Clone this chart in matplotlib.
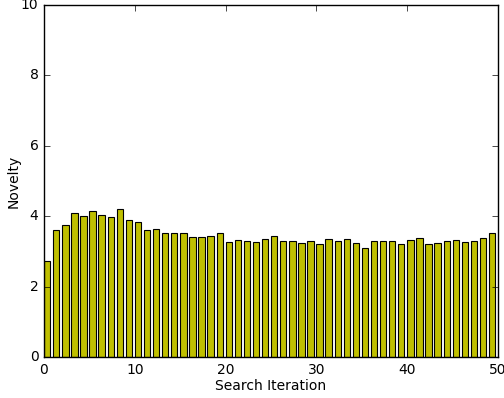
import matplotlib
matplotlib.use("Agg")
import matplotlib.pyplot as plt
import numpy as np

plt.style.use("classic")

iterations = list(range(50))
novelty = [2.73, 3.62, 3.75, 4.10, 4.00, 4.14, 4.03, 3.98, 4.20, 3.89,
           3.83, 3.62, 3.64, 3.53, 3.51, 3.53, 3.41, 3.40, 3.43, 3.51,
           3.26, 3.32, 3.30, 3.28, 3.36, 3.43, 3.30, 3.30, 3.24, 3.29,
           3.22, 3.34, 3.29, 3.36, 3.25, 3.10, 3.29, 3.29, 3.29, 3.21,
           3.32, 3.37, 3.21, 3.24, 3.30, 3.32, 3.27, 3.30, 3.37, 3.52]

fig = plt.figure(figsize=(5.04, 3.98), dpi=100)
fig.patch.set_facecolor("white")
ax = fig.add_axes([44/504, 1 - 357/398, 454/504, 352/398])
ax.bar(iterations, novelty, width=0.7, align="edge", color="y", edgecolor="black", linewidth=0.8)
ax.set_xlim(0, 50)
ax.set_ylim(0, 10)
ax.set_xticks([0, 10, 20, 30, 40, 50])
ax.set_yticks([0, 2, 4, 6, 8, 10])
ax.tick_params(labelsize=10)
ax.set_xlabel("Search Iteration", fontsize=10, labelpad=2)
ax.set_ylabel("Novelty", fontsize=10, labelpad=0)
fig.savefig("out.png", dpi=100, facecolor="white")
